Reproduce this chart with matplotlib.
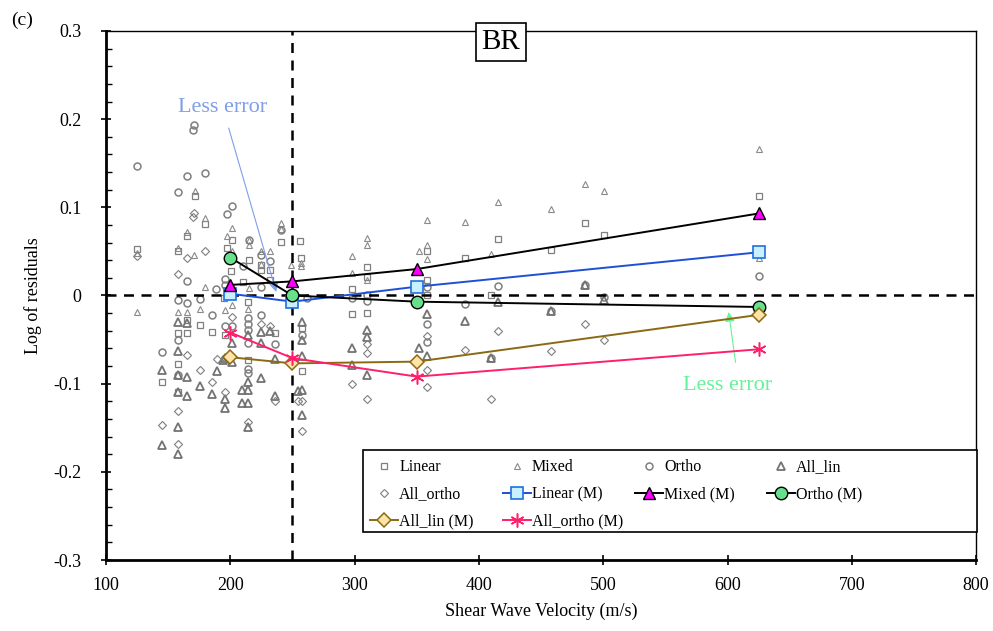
import matplotlib
matplotlib.use('Agg')
import matplotlib.pyplot as plt
from matplotlib.patches import Rectangle

plt.rcParams['font.family'] = ['Liberation Serif', 'DejaVu Serif']

# scatter points (Vs, log residual)
lin_x = [125, 158, 172, 180, 165, 197, 201, 215, 200.6, 210.5, 225, 225, 232, 232, 241, 256, 257,
         158, 158, 158, 165, 165, 175.6, 185, 145, 196, 214.5, 214.5, 236, 258, 258, 195,
         298, 298, 310, 310, 310, 358, 358, 358, 389, 410, 415, 458, 485, 501, 625]
lin_y = [0.053, 0.050, 0.113, 0.081, 0.067, 0.054, 0.063, 0.040, 0.028, 0.015, 0.029, 0.035, 0.029, 0.018, 0.061, 0.062, 0.043,
         -0.042, -0.078, -0.110, -0.028, -0.042, -0.033, -0.041, -0.098, -0.045, -0.007, -0.073, -0.043, -0.037, -0.086, -0.003,
         0.007, -0.021, 0.032, 0.021, -0.020, 0.050, 0.018, 0.001, 0.042, 0.0, 0.064, 0.052, 0.082, 0.069, 0.113]

mix_x = [125, 158, 172, 180, 165, 171, 197, 201, 201, 215, 215, 225, 225, 232, 241, 241, 257, 257, 249, 180, 215,
         298, 298, 310, 310, 310, 358, 358, 352, 358, 389, 410, 415, 458, 485, 501, 625, 625,
         125, 158, 165, 196, 201, 175.6, 214.5]
mix_y = [0.048, 0.054, 0.118, 0.088, 0.072, 0.046, 0.067, 0.076, 0.050, 0.063, 0.057, 0.050, 0.036, 0.050, 0.082, 0.075, 0.037, 0.033, 0.035, 0.010, 0.008,
         0.045, 0.026, 0.065, 0.057, 0.018, 0.086, 0.057, 0.050, 0.041, 0.083, 0.047, 0.106, 0.098, 0.127, 0.118, 0.166, 0.043,
         -0.019, -0.019, -0.019, -0.016, -0.011, -0.015, -0.015]

orth_x = [170, 171, 125, 165, 180, 158, 197, 201, 165, 188.5, 215, 210.5, 225, 232, 241, 195.7, 195.7, 225,
          145, 158, 158, 158, 165, 175.6, 185, 196, 201, 214.5, 214.5, 214.5, 214.5, 214.5, 214.5, 225, 236, 258, 262,
          298, 310, 310, 358, 358, 358, 389, 415, 410, 458, 485, 501, 625]
orth_y = [0.188, 0.193, 0.147, 0.135, 0.139, 0.117, 0.092, 0.101, 0.016, 0.007, 0.063, 0.033, 0.046, 0.039, 0.074, 0.019, 0.012, 0.010,
          -0.064, -0.005, -0.050, -0.090, -0.009, -0.004, -0.022, -0.035, -0.035, -0.026, -0.032, -0.039, -0.054, -0.083, -0.088, -0.022, -0.055, -0.045, -0.003,
          -0.003, 0.001, -0.006, 0.010, -0.032, -0.053, -0.010, 0.011, -0.071, -0.018, 0.012, -0.002, 0.022]

alin_x = [145, 145, 158, 158, 158, 158, 158, 158, 165, 165, 165, 175.6, 185, 189, 194.4, 196, 196, 196, 201, 201,
          209.7, 209.7, 214.5, 214.5, 214.5, 214.5, 214.5, 225, 225, 225, 232, 236, 236, 258, 258, 258, 258, 258, 254.7,
          298, 298, 310, 310, 310, 352, 358, 358, 389, 410, 415, 458, 485, 501]
alin_y = [-0.084, -0.169, -0.030, -0.063, -0.090, -0.110, -0.149, -0.180, -0.031, -0.093, -0.114, -0.103, -0.112, -0.086, -0.073, -0.071, -0.117, -0.128, -0.054, -0.075,
          -0.107, -0.122, -0.045, -0.098, -0.107, -0.122, -0.149, -0.041, -0.054, -0.094, -0.040, -0.072, -0.114, -0.030, -0.050, -0.069, -0.107, -0.135, -0.108,
          -0.060, -0.079, -0.039, -0.047, -0.090, -0.059, -0.021, -0.069, -0.029, -0.071, -0.007, -0.018, 0.012, -0.005]

aorth_x = [125, 171, 170, 165, 180, 158,
           145, 158, 158, 165, 175.6, 185, 189, 196, 196, 201, 214.5, 225, 232, 236, 258, 258, 254.7,
           298, 310, 310, 310, 358, 358, 358, 389, 415, 410, 458, 485, 501, 625]
aorth_y = [0.045, 0.094, 0.089, 0.042, 0.050, 0.024,
           -0.147, -0.131, -0.168, -0.067, -0.084, -0.098, -0.072, -0.071, -0.109, -0.024, -0.143, -0.032, -0.035, -0.120, -0.120, -0.154, -0.120,
           -0.100, -0.055, -0.065, -0.117, -0.046, -0.084, -0.104, -0.062, -0.040, -0.117, -0.063, -0.032, -0.050, -0.018]

# bin means
mean_x = [200, 250, 350, 625]
lin_m = [0.002, -0.007, 0.010, 0.049]
mix_m = [0.012, 0.016, 0.030, 0.093]
orth_m = [0.043, 0.000, -0.007, -0.013]
alin_m = [-0.070, -0.077, -0.075, -0.022]
aorth_m = [-0.042, -0.071, -0.092, -0.061]

fig = plt.figure(figsize=(9.93, 6.31), dpi=100)
ax = fig.add_axes([0.1067, 0.1125, 0.8763, 0.8384])

g = '#7f7f7f'
h1, = ax.plot(lin_x, lin_y, 's', ms=5, mfc='none', mec=g, mew=0.9, ls='none', label='Linear')
h2, = ax.plot(mix_x, mix_y, '^', ms=5, mfc='none', mec='#8a8a8a', mew=0.8, ls='none', label='Mixed')
h3, = ax.plot(orth_x, orth_y, 'o', ms=5, mfc='none', mec=g, mew=1.1, ls='none', label='Ortho')
h4, = ax.plot(alin_x, alin_y, '^', ms=5.5, mfc='none', mec='#737373', mew=1.3, ls='none', label='All_lin')
h5, = ax.plot(aorth_x, aorth_y, 'D', ms=4, mfc='none', mec=g, mew=0.8, ls='none', label='All_ortho')

ax.axhline(0, color='k', lw=1.8, ls=(0, (4, 3)), zorder=3)
ax.axvline(250, color='k', lw=1.8, ls=(0, (4, 3)), zorder=3)

h6, = ax.plot(mean_x, lin_m, '-s', color='#1f4fd6', lw=1.4, ms=8, mfc='#c8f0ff', mec='#1f6fe0', mew=1.2, zorder=5, label='Linear (M)')
h7, = ax.plot(mean_x, mix_m, '-^', color='k', lw=1.4, ms=9, mfc='#ff00ff', mec='k', mew=1, zorder=5, label='Mixed (M)')
h8, = ax.plot(mean_x, orth_m, '-o', color='k', lw=1.4, ms=9, mfc='#66e08a', mec='k', mew=1, zorder=5, label='Ortho (M)')
h9, = ax.plot(mean_x, alin_m, '-D', color='#8b6a14', lw=1.4, ms=7.5, mfc='#ffe4a8', mec='#8b6a14', mew=1.1, zorder=5, label='All_lin (M)')
h10, = ax.plot(mean_x, aorth_m, '-', color='#ff1f6a', lw=1.4, marker=(6, 2, 0), ms=10, mec='#ff1f6a', mew=1.1, zorder=5, label='All_ortho (M)')

ax.set_xlim(100, 800)
ax.set_ylim(-0.3, 0.3)
ax.set_xticks(range(100, 801, 100))
ax.set_yticks([-0.3, -0.2, -0.1, 0, 0.1, 0.2, 0.3])
ax.set_yticklabels(['-0.3', '-0.2', '-0.1', '0', '0.1', '0.2', '0.3'])
ax.set_yticks([i * 0.02 - 0.3 for i in range(31)], minor=True)
ax.tick_params(axis='both', which='major', direction='inout', length=7, width=1.2, labelsize=13)
ax.tick_params(axis='y', which='major', pad=14)
ax.tick_params(axis='x', which='major', pad=9)
ax.tick_params(axis='y', which='minor', direction='in', length=4, width=1)
ax.tick_params(axis='x', which='minor', length=0)
ax.spines['left'].set_linewidth(2)
ax.spines['bottom'].set_linewidth(2)
ax.spines['top'].set_linewidth(1)
ax.spines['right'].set_linewidth(1)

ax.set_xlabel('Shear Wave Velocity (m/s)', fontsize=13, labelpad=6)
ax.set_ylabel('Log of residuals', fontsize=13, labelpad=8)

ax.text(417.8, 0.2875, 'BR', fontsize=21, ha='center', va='center',
        bbox=dict(boxstyle='square,pad=0.2', fc='white', ec='k', lw=1.2))
fig.text(0.022, 0.968, '(c)', fontsize=14, ha='center', va='center')

ax.annotate('', xy=(237.6, 0.001), xytext=(198.1, 0.193),
            arrowprops=dict(arrowstyle='-|>', color='#7f9fe8', lw=0.8, mutation_scale=14))
ax.text(194.1, 0.2137, 'Less error', color='#7f9fe8', fontsize=16, ha='center', va='center')
ax.annotate('', xy=(600.6, -0.0156), xytext=(606.8, -0.079),
            arrowprops=dict(arrowstyle='-|>', color='#66f29a', lw=0.8, mutation_scale=14))
ax.text(600.4, -0.1026, 'Less error', color='#66f29a', fontsize=16, ha='center', va='center')

# legend frame + one legend per column so the columns sit on a fixed pitch
ax.add_patch(Rectangle((0.3656, 0.1569), 0.6183, 0.13, transform=fig.transFigure,
                       fc='white', ec='k', lw=1.2, zorder=4.5, clip_on=False))
cols = [[h1, h5, h9], [h2, h6, h10], [h3, h7], [h4, h8]]
col_x = [0.3726, 0.5062, 0.6395, 0.7724]
for i, (hs, cx) in enumerate(zip(cols, col_x)):
    lg = ax.legend(handles=hs, loc='upper left', bbox_to_anchor=(cx, 0.272),
                   bbox_transform=fig.transFigure, frameon=False, fontsize=11.5,
                   handlelength=1.75, handletextpad=0.08, borderpad=0, borderaxespad=0,
                   labelspacing=0.7)
    lg.set_zorder(6)
    if i < len(cols) - 1:
        ax.add_artist(lg)

fig.savefig('out.png', dpi=100)
